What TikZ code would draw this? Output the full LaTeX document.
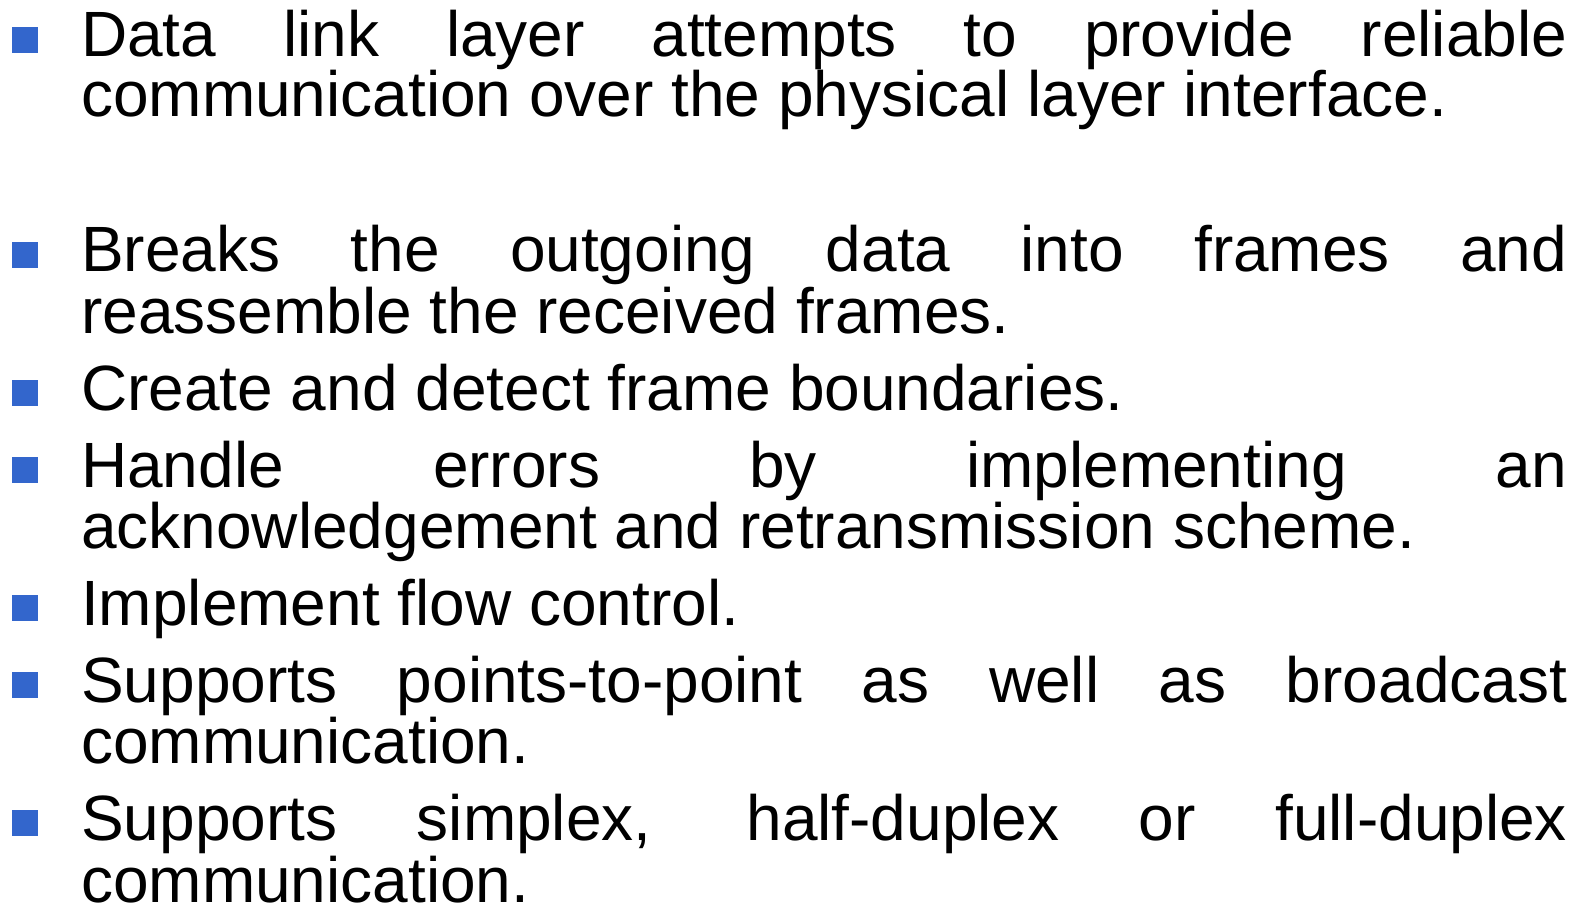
\documentclass[tikz,border=0pt]{standalone}
\usepackage{fontspec}
\setmainfont{Liberation Sans}
\definecolor{bulletblue}{RGB}{51,102,204}
\newcommand{\fullline}[1]{\makebox[1486pt][s]{#1}}
\begin{document}
\begin{tikzpicture}[
                            x=1pt, y=-1pt,
                            bul/.style={rectangle, fill=bulletblue, draw=none, minimum size=26pt, inner sep=0pt},
                            txt/.style={anchor=base west, inner sep=0pt, font=\fontsize{64}{60}\selectfont}
                        ]
                        \useasboundingbox (0,0) rectangle (1585,904);
                        % Bullets
                        \node [bul] (b1) at (25,40) {};
                        \node [bul] (b2) at (25,255) {};
                        \node [bul] (b3) at (25,393) {};
                        \node [bul] (b4) at (25,470) {};
                        \node [bul] (b5) at (25,608) {};
                        \node [bul] (b6) at (25,685) {};
                        \node [bul] (b7) at (25,823) {};

                        % Text
                        \node [txt] (t1a) at (81,57) {\fullline{Data link layer attempts to provide reliable}};
                        \node [txt] (t1b) at (81,117) {communication over the physical layer interface.};
                        \node [txt] (t2a) at (81,272) {\fullline{Breaks the outgoing data into frames and}};
                        \node [txt] (t2b) at (81,333) {reassemble the received frames.};
                        \node [txt] (t3) at (81,410) {Create and detect frame boundaries.};
                        \node [txt] (t4a) at (81,487) {\fullline{Handle errors by implementing an}};
                        \node [txt] (t4b) at (81,548) {acknowledgement and retransmission scheme.};
                        \node [txt] (t5) at (81,625) {Implement flow control.};
                        \node [txt] (t6a) at (81,702) {\fullline{Supports points-to-point as well as broadcast}};
                        \node [txt] (t6b) at (81,763) {communication.};
                        \node [txt] (t7a) at (81,840) {\fullline{Supports simplex, half-duplex or full-duplex}};
                        \node [txt] (t7b) at (81,902) {communication.};
                    \end{tikzpicture}
\end{document}
